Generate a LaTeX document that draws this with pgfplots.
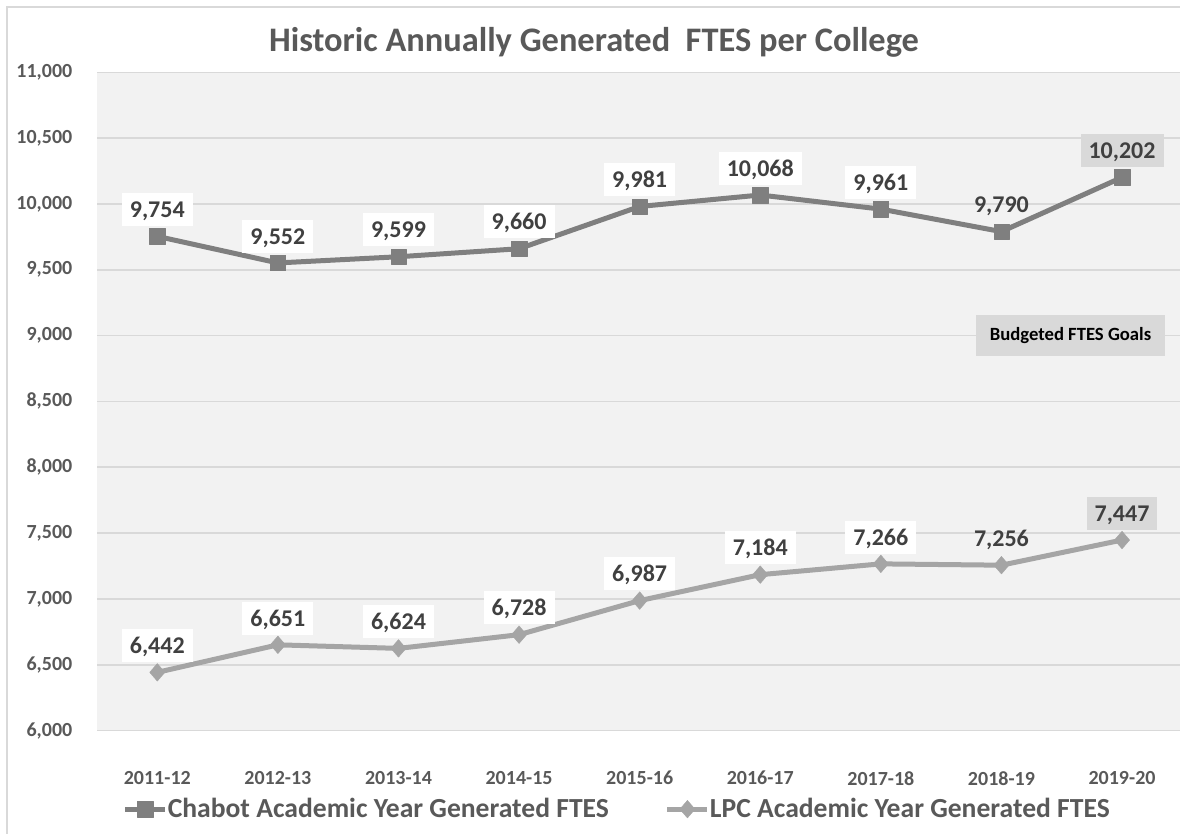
\documentclass[border=0pt]{standalone}
\usepackage{fontspec}
\setmainfont{Carlito}
\usepackage{pgfplots}
\pgfplotsset{compat=1.18}
\definecolor{bg}{HTML}{F2F2F2}
\definecolor{gridc}{HTML}{D9D9D9}
\definecolor{chab}{HTML}{7F7F7F}
\definecolor{lpc}{HTML}{A5A5A5}
\definecolor{txt}{HTML}{404040}
\definecolor{tickc}{HTML}{595959}
\pgfplotsset{
  lbl/.style={draw=none, mark=none, forget plot, point meta=y, nodes near coords,
    nodes near coords style={font=\fontsize{18}{21}\selectfont\bfseries, text=txt, anchor=south,
     yshift=7.5pt, inner xsep=6pt, inner ysep=0pt, text height=12pt, text depth=0pt,
     minimum height=24.75pt, fill=#1}},
}
\begin{document}
\begin{tikzpicture}
\draw[gridc, line width=1.2pt] (5.25pt,-100pt) rectangle (1000pt,620.25pt);
\begin{axis}[
  at={(72.75pt,77.6pt)}, anchor=south west,
  scale only axis, width=814pt, height=493.65pt,
  xmin=-0.5, xmax=8.5, ymin=6000, ymax=11000,
  xtick={0,...,8},
  xticklabels={2011-12,2012-13,2013-14,2014-15,2015-16,2016-17,2017-18,2018-19,2019-20},
  ytick distance=500,
  scaled y ticks=false,
  axis background/.style={fill=bg},
  axis line style={draw=none},
  major tick length=0pt,
  ymajorgrids, grid style={gridc, line width=1.2pt},
  tick label style={font=\fontsize{15}{18}\selectfont\bfseries, text=tickc},
  /pgf/number format/assume math mode=true,
  /pgf/number format/1000 sep={,},
  yticklabel style={anchor=east, xshift=-15pt},
  xticklabel style={anchor=north, yshift=-27pt},
  clip=false,
  legend columns=2,
  legend style={at={(0.0235,-0.1195)}, anchor=west, draw=none, fill=none, inner sep=0pt,
    font=\fontsize{20.7}{24}\selectfont\bfseries, text=tickc,
    /tikz/every even column/.append style={column sep=42pt},
    nodes={inner xsep=0pt}},
  legend cell align=left,
  legend image code/.code={\draw[mark repeat=2,mark phase=2] plot coordinates {(0pt,0pt) (15pt,0pt) (30pt,0pt)};},
]
\addplot[chab, line width=3.75pt, line join=round, mark=square*, mark size=5.8pt, mark options={solid, line width=0.3pt}]
  coordinates {(0,9754) (1,9552) (2,9599) (3,9660) (4,9981) (5,10068) (6,9961) (7,9790) (8,10202)};
\addlegendentry{Chabot Academic Year Generated FTES}
\addplot[lpc, line width=3.75pt, line join=round, mark=diamond*, mark size=6.6pt, mark options={solid, line width=0.3pt, xscale=1.15}]
  coordinates {(0,6442) (1,6651) (2,6624) (3,6728) (4,6987) (5,7184) (6,7266) (7,7256) (8,7447)};
\addlegendentry{LPC Academic Year Generated FTES}
% data labels
\addplot[lbl=white]
  coordinates {(0,9754) (1,9552) (2,9599) (3,9660) (4,9981) (5,10068) (6,9961)};
\addplot[lbl=none]
  coordinates {(7,9790)};
\addplot[lbl=gridc]
  coordinates {(8,10202)};
\addplot[lbl=white]
  coordinates {(0,6442) (1,6651) (2,6624) (3,6728) (4,6987) (5,7184) (6,7266)};
\addplot[lbl=none]
  coordinates {(7,7256)};
\addplot[lbl=gridc]
  coordinates {(8,7447)};
\end{axis}
\node[fill=gridc, minimum width=141.75pt, minimum height=30.75pt, inner sep=0pt,
  font=\fontsize{14}{17}\selectfont\bfseries, text=black] at (802.9pt,373.9pt) {Budgeted FTES Goals};
\node[anchor=base, font=\fontsize{25.8}{30}\selectfont\bfseries, text=tickc] at (445.5pt,586.5pt)
  {Historic Annually Generated~ FTES per College};
\pgfresetboundingbox
\path[use as bounding box] (0pt,0pt) rectangle (885pt,625.5pt);
\end{tikzpicture}
\end{document}
